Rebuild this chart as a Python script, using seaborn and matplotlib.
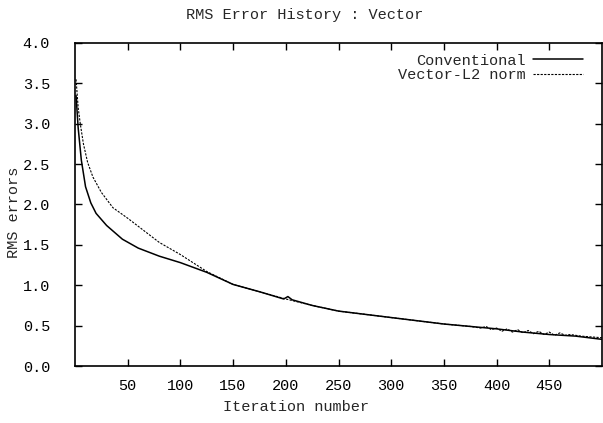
import matplotlib
matplotlib.use("Agg")
import matplotlib.pyplot as plt
import seaborn as sns
import pandas as pd

# ---- data ----
iter_conv = [1, 3, 6, 10, 15, 20, 30, 45, 60, 80, 100, 125, 150, 175, 198, 202, 206,
             225, 250, 275, 300, 325, 350, 375, 400, 425, 450, 475, 500]
rms_conv = [3.35, 2.95, 2.55, 2.22, 2.02, 1.89, 1.74, 1.57, 1.46, 1.36, 1.28, 1.16, 1.01,
            0.92, 0.83, 0.86, 0.82, 0.75, 0.68, 0.64, 0.60, 0.56, 0.52, 0.49, 0.46,
            0.42, 0.39, 0.37, 0.33]

iter_vec = [1, 3, 5, 8, 12, 17, 25, 36, 50, 60, 80, 100, 125, 150, 175, 200, 225, 250,
            275, 300, 325, 350, 375, 385, 390, 395, 400, 405, 410, 415, 420, 425, 430,
            435, 440, 445, 450, 455, 460, 465, 470, 480, 490, 500]
rms_vec = [3.55, 3.20, 3.00, 2.75, 2.52, 2.34, 2.15, 1.96, 1.83, 1.73, 1.53, 1.38, 1.17,
           1.01, 0.92, 0.83, 0.75, 0.68, 0.64, 0.60, 0.56, 0.52, 0.49, 0.47, 0.49, 0.45,
           0.47, 0.43, 0.46, 0.42, 0.45, 0.41, 0.44, 0.40, 0.43, 0.39, 0.42, 0.38, 0.41,
           0.38, 0.39, 0.37, 0.36, 0.35]

x_ticks = [50, 100, 150, 200, 250, 300, 350, 400, 450]
y_ticks = [0.0, 0.5, 1.0, 1.5, 2.0, 2.5, 3.0, 3.5, 4.0]

title = "RMS Error History : Vector"
xlabel = "Iteration number"
ylabel = "RMS errors"
labels = ["Conventional", "Vector-L2 norm"]

sns.set_style("ticks")
plt.rcParams["font.family"] = ["Liberation Mono", "DejaVu Sans Mono"]

df_c = pd.DataFrame({"it": iter_conv, "rms": rms_conv})
df_v = pd.DataFrame({"it": iter_vec, "rms": rms_vec})

fig = plt.figure(figsize=(6.03, 4.23), dpi=100)
ax = fig.add_axes([75 / 603, 1 - 366 / 423, (602 - 75) / 603, (366 - 43) / 423])

sns.lineplot(data=df_c, x="it", y="rms", ax=ax, color="black", linewidth=1.1,
             label=labels[0])
sns.lineplot(data=df_v, x="it", y="rms", ax=ax, color="black", linewidth=0.8,
             linestyle=(0, (2, 1.2)), label=labels[1])

ax.set_xlim(0, 500)
ax.set_ylim(0, 4.0)
ax.set_xticks(x_ticks)
ax.set_yticks(y_ticks)
ax.set_yticklabels([f"{v:.1f}" for v in y_ticks])
ax.set_xlabel("")
ax.set_ylabel("")
ax.tick_params(direction="in", length=5, width=1, top=True, right=True,
               labelsize=11, colors="black")
ax.tick_params(axis="x", pad=9)
ax.tick_params(axis="y", pad=18)
for s in ax.spines.values():
    s.set_visible(True)
    s.set_linewidth(1.2)
    s.set_color("black")

leg = ax.legend(loc="upper right", frameon=False, markerfirst=False, fontsize=11,
                handlelength=3.3, handletextpad=0.5, labelspacing=0.05,
                borderaxespad=0.3, bbox_to_anchor=(0.985, 1.0))
for t in leg.get_texts():
    t.set_ha("right")
leg._legend_box.align = "right"

fig.text(305 / 603, 1 - 15 / 423, title, ha="center", va="center", fontsize=11)
fig.text(296 / 603, 1 - 407 / 423, xlabel, ha="center", va="center", fontsize=11)
fig.text(14 / 603, 1 - 212 / 423, ylabel, ha="center", va="center", fontsize=11,
         rotation=90)

fig.savefig("out.png", dpi=100)
